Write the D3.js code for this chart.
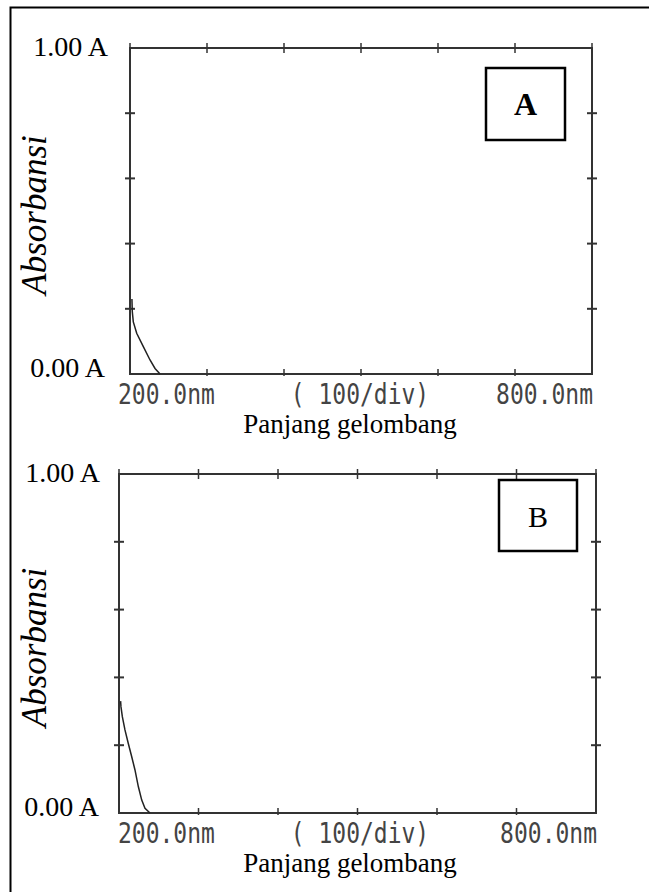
<!DOCTYPE html>
<html>
<head>
<meta charset="utf-8">
<script src="https://cdn.jsdelivr.net/npm/d3@7"></script>
<style>
  body { margin: 0; background: #fff; }
</style>
</head>
<body>
<div id="chart"></div>
<script>
// spectra: wavelength (nm) vs absorbance (A)
const xTicks = [200, 300, 400, 500, 600, 700, 800]
const yTicks = [0, 0.2, 0.4, 0.6, 0.8, 1.0]
const spectrumA = [
  { nm: 202.5, abs: 0.23 }, { nm: 203, abs: 0.191 }, { nm: 204.3, abs: 0.16 },
  { nm: 208.7, abs: 0.125 }, { nm: 217.3, abs: 0.084 }, { nm: 226, abs: 0.043 },
  { nm: 232.5, abs: 0.017 }, { nm: 239, abs: 0.0 }
]
const spectrumB = [
  { nm: 202, abs: 0.33 }, { nm: 202.5, abs: 0.313 }, { nm: 204.2, abs: 0.284 },
  { nm: 207.5, abs: 0.245 }, { nm: 211.7, abs: 0.205 }, { nm: 216, abs: 0.166 },
  { nm: 220.1, abs: 0.127 }, { nm: 224.3, abs: 0.078 }, { nm: 228.6, abs: 0.038 },
  { nm: 232.7, abs: 0.014 }, { nm: 239, abs: 0.0 }
]
const yLabels = ["0.00 A", "1.00 A"]
const xLabels = ["200.0nm", "( 100/div)", "800.0nm"]
const yTitle = "Absorbansi"
const xTitle = "Panjang gelombang"

const width = 649, height = 892
const serif = "'Liberation Serif', 'Times New Roman', serif"
const svg = d3.select("#chart").append("svg")
  .attr("width", width).attr("height", height)

// page frame (only left and top edges fall inside the crop)
svg.append("path")
  .attr("d", "M10.5,892 V7.5 H649")
  .attr("fill", "none").attr("stroke", "#000").attr("stroke-width", 2)

const panels = [
  { key: "A", data: spectrumA, left: 130, right: 592, top: 48, bottom: 374, bold: true,
    box: [486, 68, 565, 140], labelTop: 108, labelBottom: 105 },
  { key: "B", data: spectrumB, left: 119, right: 596, top: 474, bottom: 813, bold: false,
    box: [499, 480, 577, 551], labelTop: 100, labelBottom: 99 }
]

panels.forEach(p => {
  const x = d3.scaleLinear().domain([200, 800]).range([p.left, p.right])
  const y = d3.scaleLinear().domain([0, 1]).range([p.bottom, p.top])
  const g = svg.append("g")
  const axisColor = "#333"

  // frame of the plot
  g.append("rect")
    .attr("x", p.left).attr("y", p.top)
    .attr("width", p.right - p.left).attr("height", p.bottom - p.top)
    .attr("fill", "none").attr("stroke", axisColor).attr("stroke-width", 2)

  // tick crosses on all four sides
  const tk = 5
  g.append("g").selectAll("line").data(xTicks).join("line")
    .attr("x1", d => x(d)).attr("x2", d => x(d))
    .attr("y1", p.top - tk).attr("y2", p.top + tk)
    .attr("stroke", axisColor).attr("stroke-width", 1.5)
  g.append("g").selectAll("line").data(xTicks.slice(1, -1)).join("line")
    .attr("x1", d => x(d)).attr("x2", d => x(d))
    .attr("y1", p.bottom - tk).attr("y2", p.bottom + 2)
    .attr("stroke", axisColor).attr("stroke-width", 1.5)
  g.append("g").selectAll("line").data(yTicks.slice(1, -1)).join("line")
    .attr("x1", p.left - tk).attr("x2", p.left + tk)
    .attr("y1", d => y(d)).attr("y2", d => y(d))
    .attr("stroke", axisColor).attr("stroke-width", 2)
  g.append("g").selectAll("line").data(yTicks.slice(1, -1)).join("line")
    .attr("x1", p.right - tk).attr("x2", p.right + tk)
    .attr("y1", d => y(d)).attr("y2", d => y(d))
    .attr("stroke", axisColor).attr("stroke-width", 2)

  // spectrum
  g.append("path")
    .datum(p.data)
    .attr("d", d3.line().x(d => x(d.nm)).y(d => y(d.abs)))
    .attr("fill", "none").attr("stroke", "#222").attr("stroke-width", 1.5)

  // y labels
  g.append("text").attr("x", p.labelTop).attr("y", y(1) + 8)
    .attr("text-anchor", "end")
    .attr("font-family", serif)
    .attr("font-size", 28).text(yLabels[1])
  g.append("text").attr("x", p.labelBottom).attr("y", y(0) + 3)
    .attr("text-anchor", "end")
    .attr("font-family", serif)
    .attr("font-size", 28).text(yLabels[0])

  // y title
  g.append("text")
    .attr("transform", `translate(46,${(p.top + p.bottom) / 2 + 4}) rotate(-90)`)
    .attr("text-anchor", "middle")
    .attr("font-family", serif)
    .attr("font-style", "italic")
    .attr("font-size", 35).text(yTitle)

  // instrument style x labels
  const mono = g.append("g")
    .attr("font-family", "'DejaVu Sans Mono', monospace")
    .attr("font-size", 23).attr("fill", "#444")
  const by = p.bottom + 30
  const stretch = `translate(0,${by}) scale(1,1.2) translate(0,${-by})`
  mono.append("text").attr("x", 118).attr("y", by).text(xLabels[0])
    .attr("transform", stretch)
  mono.append("text").attr("x", 360).attr("y", by).attr("text-anchor", "middle").text(xLabels[1])
    .attr("transform", stretch)
  mono.append("text").attr("x", p.right + 1).attr("y", by).attr("text-anchor", "end").text(xLabels[2])
    .attr("transform", stretch)

  // x title
  g.append("text").attr("x", 350).attr("y", p.bottom + 59)
    .attr("text-anchor", "middle")
    .attr("font-family", serif)
    .attr("font-size", 27).text(xTitle)

  // panel tag box
  const [bx0, by0, bx1, by1] = p.box
  g.append("rect").attr("x", bx0).attr("y", by0)
    .attr("width", bx1 - bx0).attr("height", by1 - by0)
    .attr("fill", "#fff").attr("stroke", "#000").attr("stroke-width", 2.5)
  g.append("text").attr("x", (bx0 + bx1) / 2).attr("y", (by0 + by1) / 2 + 11)
    .attr("text-anchor", "middle")
    .attr("font-family", serif)
    .attr("font-weight", p.bold ? "bold" : "normal")
    .attr("font-size", p.bold ? 32 : 30).text(p.key)
})
</script>
</body>
</html>
